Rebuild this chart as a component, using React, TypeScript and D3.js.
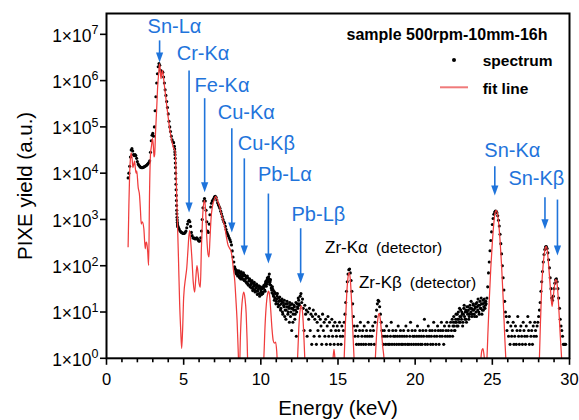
import React from "react";
import * as d3 from "d3";

// ---------------- data ----------------
const xTicks = [0, 5, 10, 15, 20, 25, 30];
const xMinor = d3.range(0, 31, 1);
const yTickExps = [0, 1, 2, 3, 4, 5, 6, 7];

// spectrum (PIXE yield), channel step 0.05 keV unless noted
const specStep = 0.05;
const specLowStart = 1.4;
const specLow = [
  7900, 10000, 14100, 22400, 31600, 33900, 30200, 25100, 24000, 25100,
  24000, 20900, 17800, 15800, 14800, 14100, 13500, 13200, 13200, 13200,
  13500, 13800, 14100, 14500, 14800, 15500, 16200, 17000, 18600, 28200,
  50100, 66100, 72400, 63100, 100000, 224000, 447000, 891000, 1410000, 2000000,
  2340000, 2140000, 1660000, 1510000, 1580000, 1510000, 1200000, 891000, 631000, 479000,
  355000, 263000, 191000, 132000, 100000, 79400, 63100, 52500, 47900, 45700,
  38000,
];
const specEdgeStart = 4.42;
const specEdgeStep = 0.01;
const specEdge = [
  33100, 28800, 25100, 20900, 16600, 13200, 10000, 7590, 5750, 4370,
  3310, 2570, 2000, 1580, 1320, 1120, 977, 871, 794, 741,
  708,
];
const specMidStart = 4.65;
const specMid = [
  676, 631, 575, 550, 525, 513, 501, 501, 501, 525,
  562, 661, 794, 912, 955, 891, 708, 525, 447, 398,
  400, 390, 380, 390, 400, 380, 355, 340, 345, 400,
  562, 1000, 1780, 2510, 2820, 2510, 1580, 891, 562, 525,
  794, 1260, 1860, 2240, 2510, 2630, 2820, 3090, 3160, 3020,
  2630, 2290, 2090, 1910, 1740, 1510, 1320, 1150, 1000, 891,
  832, 708, 603, 525, 479, 437, 398, 363, 331, 282,
  209, 155, 120, 95, 83, 69, 79, 60, 72, 58,
  71, 52, 68, 52, 66, 50, 63, 46, 58, 42,
  55, 38, 50, 35, 46, 33, 43, 32, 40, 30,
  38, 28, 36, 28, 35, 25, 33,
];
// interleaved channels (half-step offset) in the noisy 8.3–12.5 keV stretch
const specCloudStart = 8.325;
const specCloud = [
  88, 74, 66, 75, 64, 78, 55, 62, 74, 57,
  60, 70, 48, 61, 53, 44, 60, 40, 47, 52,
  38, 41, 48, 29, 36, 44, 27, 33, 40, 24,
  31, 37, 22, 35, 27, 32, 25, 33, 36, 28,
  46, 40, 55, 48, 52, 40, 50, 33, 26, 31,
  22, 18, 26, 15, 19, 25, 13, 17, 21, 11,
  15, 19, 9, 14, 18, 11, 7, 13, 15, 10,
  12, 16, 8, 12, 15, 6, 11, 13, 9, 16,
  10, 13, 20, 15,
];
const specTailStart = 10.0;
const specTail = [
  30, 24, 34, 27, 38, 30, 42, 36, 50, 44,
  58, 66, 45, 38, 30, 35, 24, 28, 20, 25,
  17, 22, 15, 20, 14, 18, 12, 17, 10, 16,
  13, 8, 15, 11, 17, 9, 13, 6, 14, 10,
  4, 12, 9, 14, 7, 11, 3, 15, 12, 18,
  14, 22, 25, 16, 19, 12, 4, 14, 9, 11,
  3, 10, 7, 12, 4, 9, 2, 8, 11, 3,
  7, 9, 2, 6, 4, 8, 3, 7, 5, 2,
  9, 4, 6, 3, 7, 2, 5, 8, 3, 6,
  2, 4, 7, 3, 5, 2, 6, 4, 3, 5,
  2, 4, 6, 3, 2, 5, 3, 4, 6, 9,
  16, 28, 45, 66, 82, 85, 70, 48, 28, 15,
  8, 5, 3, 4, 2, 5, 3, 2, 4, 6,
  2, 3, 4, 2, 5, 3, 2, 4, 3, 6,
  2, 3, 4, 2, 3, 5, 4, 2, 6, 8,
  11, 15, 18, 17, 13, 9, 6, 4, 3, 2,
  4, 3, 2, 5, 3, 2, 4, 2, 3, 6,
  2, 4, 3, 2, 3, 4, 2, 3, 5, 2,
  3, 4, 2, 3, 2, 4, 3, 2, 5, 3,
  2, 4, 2, 3, 6, 2, 4, 3, 2, 3,
  4, 2, 3, 5, 2, 3, 4, 2, 3, 2,
  4, 3, 7, 2, 4, 3, 2, 5, 3, 4,
  2, 3, 4, 2, 6, 3, 4, 2, 3, 5,
  4, 2, 3, 4, 6, 3, 4, 2, 5, 3,
  4, 6, 3, 4, 5, 3, 6, 4, 7, 5,
  8, 4, 6, 9, 5, 7, 10, 6, 8, 11,
  7, 9, 6, 12, 8, 10, 7, 13, 9, 11,
  8, 14, 10, 12, 9, 15, 11, 8, 13, 10,
  16, 11, 14, 9, 17, 12, 15, 11, 18, 13,
  16, 14,
];
// interleaved channels in the rising background 22.4–24.6 keV
const specRiseStart = 22.425;
const specRise = [
  3, 6, 5, 4, 7, 6, 9, 5, 7, 12,
  6, 8, 10, 5, 9, 14, 7, 11, 6, 10,
  13, 7, 9, 12, 17, 8, 11, 14, 9, 12,
  15, 8, 13, 19, 10, 14, 12, 20, 9, 15,
  11, 19, 12, 17,
];
const specHighStart = 24.6;
const specHigh = [
  15, 20, 35, 70, 120, 210, 350, 540, 780, 1050,
  1300, 1450, 1520, 1500, 1400, 1200, 960, 720, 480, 300,
  180, 100, 55, 30, 17, 10, 8, 4, 6, 3,
  8, 2, 5, 3, 4, 6, 2, 3, 5, 2,
  4, 8, 3, 2, 4, 5, 3, 2, 6, 4,
  3, 2, 5, 3, 8, 4, 2, 6, 3, 4,
  2, 5, 3, 6, 4, 3, 5, 6, 8, 11,
  16, 28, 45, 75, 120, 175, 225, 258, 260, 235,
  190, 135, 90, 55, 32, 20, 18, 22, 32, 42,
  50, 52, 45, 32, 20, 12, 7, 5, 4, 3,
  2, 2, 2, 2,
];

// fit line: [energy keV, yield]
const fitLow: [number, number][] = [
  [1.4, 251], [1.45, 2000], [1.5, 10000], [1.55, 20900], [1.6, 27500], [1.65, 22400],
  [1.71, 13200], [1.77, 15800], [1.82, 18200], [1.87, 12600], [1.92, 10000], [1.96, 11200],
  [2.05, 5010], [2.14, 3310], [2.2, 1580], [2.25, 794], [2.32, 891], [2.42, 631],
  [2.51, 234], [2.56, 316], [2.6, 324], [2.67, 200], [2.73, 102], [2.79, 3980],
  [2.85, 25100], [2.92, 39800], [2.98, 56200], [3.03, 41700], [3.08, 22400], [3.12, 25100],
  [3.18, 79400], [3.25, 240000], [3.32, 794000], [3.38, 1410000], [3.43, 2290000], [3.48, 1780000],
  [3.53, 1100000], [3.58, 1410000], [3.62, 1660000], [3.68, 1260000], [3.75, 794000], [3.82, 501000],
  [3.9, 295000], [4.0, 158000], [4.12, 79400], [4.22, 52500], [4.33, 36300], [4.44, 30200],
  [4.5, 12600], [4.55, 3160], [4.6, 794], [4.66, 158], [4.74, 15.1], [4.81, 3.98],
  [4.87, 1.62], [4.93, 3.98], [5.0, 20.9], [5.13, 57.5], [5.2, 89.1], [5.28, 224],
  [5.34, 447], [5.39, 575], [5.45, 355], [5.54, 132], [5.62, 44.7], [5.71, 26.9],
  [5.78, 50.1], [5.86, 100], [5.93, 70.8], [6.0, 41.7], [6.08, 34.7], [6.15, 251],
  [6.22, 1000], [6.3, 2240], [6.36, 2570], [6.42, 1580], [6.5, 398], [6.58, 178],
  [6.64, 155], [6.7, 355], [6.78, 1120], [6.85, 1780], [6.9, 2190], [7.0, 2820],
  [7.08, 3160], [7.15, 2820], [7.25, 2240], [7.34, 1860], [7.45, 1260], [7.55, 955],
  [7.66, 692], [7.77, 417], [7.88, 275], [7.94, 251], [7.99, 234], [8.08, 200],
  [8.16, 132], [8.23, 79.4], [8.31, 47.9], [8.38, 20.0], [8.46, 6.61], [8.53, 1.58],
  [8.6, 0.4], [8.68, 3.16], [8.75, 11.0], [8.82, 20.9], [8.9, 26.9], [8.97, 20.0],
  [9.05, 9.33], [9.11, 2.51], [9.17, 0.4],
];
const fitMid: [number, number][] = [
  [10.1, 0.4], [10.18, 0.79], [10.28, 5.62], [10.36, 15.1], [10.44, 25.1], [10.5, 28.2],
  [10.56, 24.0], [10.64, 11.2], [10.72, 4.47], [10.8, 2.45], [10.88, 2.14], [10.96, 2.24],
  [11.03, 1.41], [11.12, 0.4], [12.3, 0.4], [12.38, 1.0], [12.46, 4.47], [12.54, 10.5],
  [12.62, 13.8], [12.7, 10.0], [12.78, 3.55], [12.86, 0.79], [12.92, 0.4], [14.62, 0.4],
  [14.68, 1.0], [14.74, 1.55], [14.8, 1.0], [14.86, 0.4], [15.34, 0.4], [15.4, 1.0],
  [15.48, 5.62], [15.56, 22.4], [15.64, 52.5], [15.72, 70.8], [15.8, 50.1], [15.88, 16.6],
  [15.96, 3.98], [16.04, 1.0], [16.1, 0.4], [17.36, 0.4], [17.42, 1.0], [17.5, 3.31],
  [17.58, 7.08], [17.66, 9.33], [17.74, 7.08], [17.82, 3.55], [17.9, 1.78], [17.98, 1.0],
  [18.05, 0.4],
];
const fitHigh: [number, number][] = [
  [24.18, 0.4], [24.26, 1.0], [24.33, 1.51], [24.39, 1.62], [24.45, 1.26], [24.52, 0.79],
  [24.58, 0.63], [24.65, 1.0], [24.72, 3.98], [24.8, 17.8], [24.9, 89.1], [25.0, 316],
  [25.1, 851], [25.18, 1410], [25.25, 1580], [25.32, 1380], [25.4, 891], [25.5, 355],
  [25.6, 100], [25.7, 20.0], [25.8, 3.16], [25.9, 0.63], [25.96, 0.32], [27.98, 0.32],
  [28.05, 1.0], [28.12, 6.31], [28.2, 35.5], [28.3, 112], [28.4, 214], [28.48, 263],
  [28.56, 214], [28.64, 112], [28.72, 50.1], [28.8, 22.4], [28.87, 13.2], [28.94, 20.0],
  [29.02, 35.5], [29.1, 50.1], [29.16, 47.9], [29.24, 28.2], [29.32, 10.0], [29.4, 3.16],
  [29.48, 1.12], [29.55, 0.4],
];

// annotations: label text, label anchor (E, yield), arrow (E, top yield, tip yield)
const blueLabels: { t: string; e: number; v: number }[] = [
  { t: "Sn-Lα", e: 2.66, v: 1.05e7 },
  { t: "Cr-Kα", e: 4.55, v: 2.82e6 },
  { t: "Fe-Kα", e: 5.71, v: 5.75e5 },
  { t: "Cu-Kα", e: 7.21, v: 1.45e5 },
  { t: "Cu-Kβ", e: 8.51, v: 3.24e4 },
  { t: "Pb-Lα", e: 9.81, v: 6.61e3 },
  { t: "Pb-Lβ", e: 11.99, v: 912 },
  { t: "Sn-Kα", e: 24.48, v: 2.29e4 },
  { t: "Sn-Kβ", e: 26.04, v: 5.62e3 },
];
const arrows: { e: number; top: number; tip: number }[] = [
  { e: 3.44, top: 7.4e6, tip: 2.45e6 },
  { e: 5.35, top: 1.66e6, tip: 1.41e3 },
  { e: 6.36, top: 4.17e5, tip: 3.89e3 },
  { e: 8.12, top: 9.33e4, tip: 525 },
  { e: 8.93, top: 2.09e4, tip: 166 },
  { e: 10.49, top: 3.63e3, tip: 112 },
  { e: 12.58, top: 646, tip: 41.7 },
  { e: 25.16, top: 1.41e4, tip: 3.31e3 },
  { e: 28.41, top: 3.02e3, tip: 617 },
  { e: 29.22, top: 2.69e3, tip: 166 },
];
const blackLabels: { t: string; sub: string; e: number; v: number }[] = [
  { t: "Zr-Kα", sub: "(detector)", e: 14.16, v: 186 },
  { t: "Zr-Kβ", sub: "(detector)", e: 16.36, v: 33.1 },
];

const legendTitle = "sample 500rpm-10mm-16h";
const legendItems = ["spectrum", "fit line"];

// ---------------- chart ----------------
const FONT = "'Liberation Sans', Arial, Helvetica, sans-serif";
const BLUE = "#1f74db";
const RED = "#f03c3c";

function series(start: number, step: number, vals: number[]) {
  return vals.map((v, i) => ({ e: start + i * step, v }));
}

export default function App() {
  const W = 579, H = 420;
  const x0 = 106.5, x1 = 569.5, yBot = 358.3, yTop = 13.5;
  const x = d3.scaleLinear().domain([0, 30]).range([x0, x1]);
  const y = d3.scaleLog().domain([1, Math.pow(10, 7.45)]).range([yBot, yTop]);

  const spectrum = [
    ...series(specLowStart, specStep, specLow),
    ...series(specEdgeStart, specEdgeStep, specEdge),
    ...series(specMidStart, specStep, specMid),
    ...series(specCloudStart, specStep, specCloud),
    ...series(specTailStart, specStep, specTail),
    ...series(specRiseStart, specStep, specRise),
    ...series(specHighStart, specStep, specHigh),
  ];

  const line = d3
    .line<[number, number]>()
    .x((d) => x(d[0]))
    .y((d) => y(d[1]))
    .curve(d3.curveMonotoneX);

  const lx = 440, lx2 = 468;

  return (
    <svg width={W} height={H} style={{ position: "absolute", left: 0, top: 0, background: "#fff" }} fontFamily={FONT}>
      <defs>
        <clipPath id="plotClip">
          <rect x={x0} y={yTop} width={x1 - x0} height={yBot - yTop} />
        </clipPath>
      </defs>
      <rect x={0} y={0} width={W} height={H} fill="#fff" />

      {/* spectrum dots */}
      <g fill="#000">
        {spectrum.map((d, i) => (
          <circle key={i} cx={x(d.e)} cy={y(d.v)} r={1.55} />
        ))}
      </g>

      {/* fit line */}
      <g clipPath="url(#plotClip)" fill="none" stroke={RED} strokeWidth={1.25}>
        <path d={line(fitLow) || ""} />
        <path d={line(fitMid) || ""} />
        <path d={line(fitHigh) || ""} />
      </g>

      {/* frame */}
      <rect x={x0} y={yTop} width={x1 - x0} height={yBot - yTop} fill="none" stroke="#000" strokeWidth={2} />

      {/* ticks */}
      <g stroke="#000" strokeWidth={1.6}>
        {xMinor.map((t) => (
          <line key={"m" + t} x1={x(t)} x2={x(t)} y1={yBot} y2={yBot + (t % 5 === 0 ? 6.5 : 4)} />
        ))}
        {yTickExps.map((p) => (
          <line key={"y" + p} x1={x0} x2={x0 - 6.5} y1={y(Math.pow(10, p))} y2={y(Math.pow(10, p))} />
        ))}
      </g>
      <g fontSize={16.5} textAnchor="middle" fill="#000">
        {xTicks.map((t) => (
          <text key={t} x={x(t)} y={385}>
            {t}
          </text>
        ))}
      </g>
      <g fontSize={17.5} textAnchor="end" fill="#000">
        {yTickExps.map((p) => (
          <text key={p} x={98.5} y={y(Math.pow(10, p)) + 7.3}>
            {"1×10"}
            <tspan fontSize={12.5} dy={-7.5}>
              {String(p)}
            </tspan>
          </text>
        ))}
      </g>

      {/* axis titles */}
      <text x={(x0 + x1) / 2} y={415} fontSize={20.5} textAnchor="middle">
        Energy (keV)
      </text>
      <text transform={`translate(31.5, ${(yTop + yBot) / 2}) rotate(-90)`} fontSize={20.5} textAnchor="middle">
        PIXE yield (a.u.)
      </text>

      {/* arrows */}
      <g stroke={BLUE} fill={BLUE}>
        {arrows.map((a, i) => {
          const ax = x(a.e);
          const ty = y(a.top);
          const tip = y(a.tip);
          return (
            <g key={i}>
              <line x1={ax} x2={ax} y1={ty} y2={tip - 8} strokeWidth={1.6} />
              <path d={`M${ax - 3.6},${tip - 10} L${ax + 3.6},${tip - 10} L${ax},${tip} Z`} stroke="none" />
            </g>
          );
        })}
      </g>
      <g fill={BLUE} fontSize={20}>
        {blueLabels.map((l) => (
          <text key={l.t} x={x(l.e)} y={y(l.v)}>
            {l.t}
          </text>
        ))}
      </g>
      <g fill="#000">
        {blackLabels.map((l) => (
          <text key={l.t} x={x(l.e)} y={y(l.v)} fontSize={17}>
            {l.t}
            <tspan dx={8} fontSize={15.5}>
              {l.sub}
            </tspan>
          </text>
        ))}
      </g>

      {/* legend */}
      <text x={346.5} y={39.8} fontSize={16} fontWeight="bold">
        {legendTitle}
      </text>
      <circle cx={454} cy={60} r={2} fill="#000" />
      <text x={482.7} y={65.6} fontSize={15.5} fontWeight="bold">
        {legendItems[0]}
      </text>
      <line x1={lx} x2={lx2} y1={87.3} y2={87.3} stroke="#f07a7a" strokeWidth={2} />
      <text x={482.7} y={93.8} fontSize={15.5} fontWeight="bold">
        {legendItems[1]}
      </text>
    </svg>
  );
}
